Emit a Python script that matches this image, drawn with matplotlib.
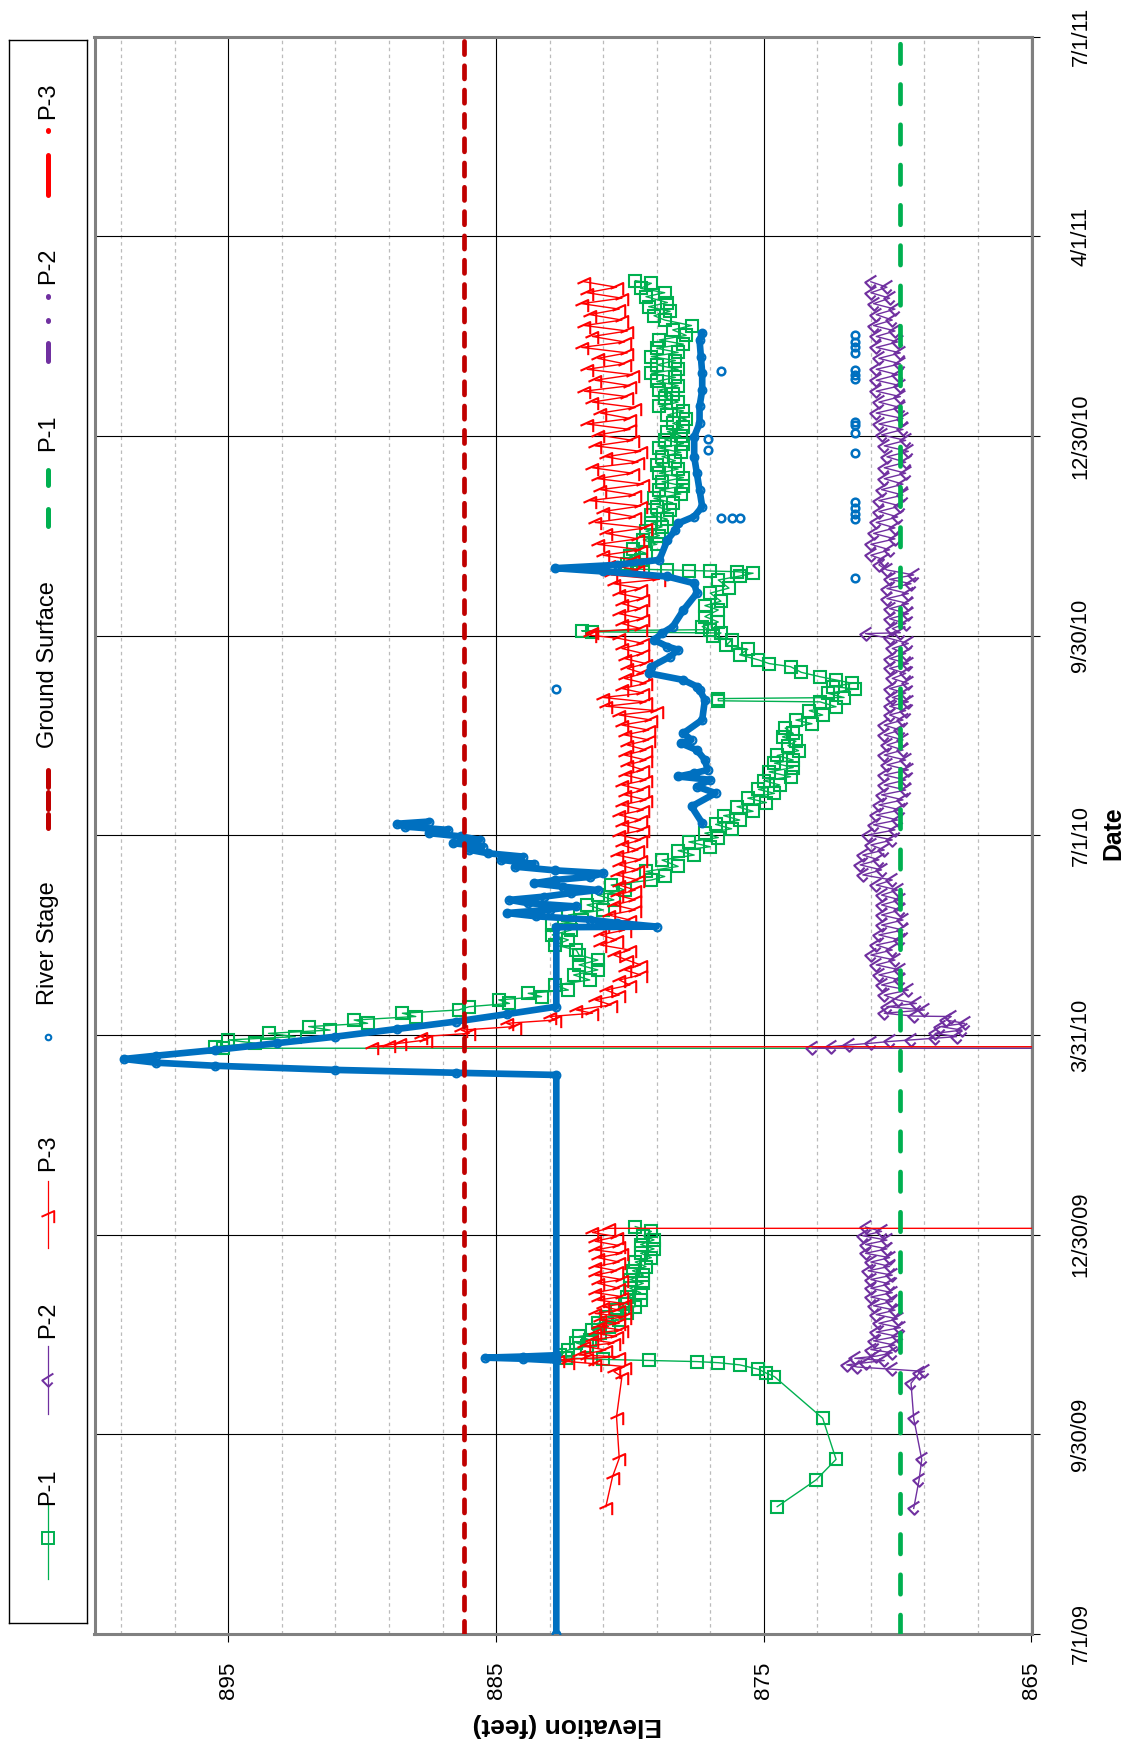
import numpy as np
import matplotlib
matplotlib.use('Agg')
import matplotlib.pyplot as plt
from matplotlib.path import Path
from matplotlib import font_manager

nan = np.nan

# ---------------- data (day = days since 7/1/09, elevation in feet) ----------------
date_ticks = [0, 91.25, 182.5, 273.75, 365, 456.25, 547.5, 638.75, 730]
date_labels = ['7/1/09', '9/30/09', '12/30/09', '3/31/10', '7/1/10',
               '9/30/10', '12/30/10', '4/1/11', '7/1/11']
elev_ticks = [865, 875, 885, 895]
elev_labels = ['865', '875', '885', '895']

ground_surface_elev = 886.2
p1_ref_elev = 869.9
ref_days = [0, 730]

p1_data = [
    (58.2, 874.5), (70.4, 873.05), (79.8, 872.3), (98.6, 872.8), (117.6, 874.6),
    (119.2, 874.9), (121.0, 875.2), (123.0, 875.9), (124.0, 876.7), (124.5, 877.5),
    (125.0, 879.3), (125.5, 881.0), (126.2, 882.4), (127.5, 882.6),
    (129.8, 882.3), (131.5, 881.6), (133, 882.0), (134.4, 881.5), (136, 881.9), (137.5, 881.1),
    (138.9, 881.4), (140.5, 880.8), (142, 881.2), (143.5, 880.4), (145, 880.9), (146.5, 880.1),
    (148, 880.5), (149.6, 879.8), (151, 880.2), (152.6, 879.6), (154.2, 880.1), (156, 879.6),
    (158, 880.0), (160.3, 879.5), (162, 880.0), (164, 879.5), (166, 879.9), (167.9, 879.4),
    (170, 879.8), (172, 879.2), (174, 879.6), (176, 879.1), (178, 879.6), (180.1, 879.1),
    (182, 879.5), (184, 879.2), (186.2, 879.8),
    (nan, nan),
    (267.6, 0.0), (267.7, 895.2),
    (268.4, 895.5), (270.0, 894.0), (271.5, 895.0), (273.0, 892.5), (274.5, 893.5),
    (276.0, 891.2), (277.6, 892.0), (279.1, 889.8), (280.6, 890.3), (282.2, 888.0),
    (283.7, 888.5), (285.2, 886.4), (286.7, 886.0), (288.2, 884.5), (289.8, 884.9),
    (291.3, 883.3), (292.8, 883.8), (294.3, 882.3), (296.6, 882.8), (298.9, 881.5),
    (301.2, 882.1), (303.5, 881.2), (305.8, 881.9), (308.0, 881.2), (310.3, 881.9),
    (312.6, 882.0), (314.9, 882.8), (317.2, 882.3), (319.5, 882.9), (321.7, 882.2),
    (324.0, 882.9), (326.3, 881.8), (328.6, 882.3), (330.9, 881.0), (333.2, 881.6),
    (335.5, 880.6), (337.7, 881.2), (340.0, 880.2), (342.3, 880.7), (344.6, 879.2),
    (346.2, 878.7), (348.5, 879.4), (350.8, 878.2), (353.7, 878.8), (356, 877.6),
    (358, 878.2), (359.8, 877.0), (362, 877.8), (364, 876.7), (366, 877.2), (368, 876.2),
    (370, 876.8), (372, 875.9), (374, 876.5), (376, 875.4), (378.1, 876.0), (380, 874.9),
    (382, 875.6), (384.2, 874.6), (386, 875.2), (388, 874.4), (390, 875.0), (391.8, 874.0),
    (394, 874.8), (396, 873.9), (398, 874.6), (399.4, 873.9), (401.5, 874.5), (403.7, 873.7),
    (406, 874.1), (408, 873.8), (410, 874.3), (411.6, 873.9), (414, 874.2), (416, 873.2),
    (417.7, 873.8), (420, 872.8), (422, 873.3), (423.8, 872.3), (426, 872.9), (426.5, 876.7),
    (427.5, 876.7), (428, 872.0), (429.9, 872.6), (431.9, 871.6), (433, 872.4), (434.5, 871.7),
    (436, 872.3), (437.5, 872.9), (439.5, 873.6), (442.1, 874.0), (443.5, 874.8), (445.2, 875.2),
    (447.5, 875.9), (450, 875.6), (452, 876.4), (454.3, 876.2), (456, 876.9), (457.5, 876.6),
    (458.0, 881.4), (458.5, 881.8), (459, 877.0), (460.4, 877.3), (462.5, 876.7), (465, 877.2),
    (468, 876.7), (470, 877.2), (472, 876.6), (475.7, 877.0), (478, 876.3), (481.7, 876.7),
    (483.5, 875.9), (484.8, 875.4), (485.5, 876.0), (485.8, 877.0), (486.0, 877.8),
    (486.3, 878.6), (486.6, 879.5), (487, 880.2), (489, 880.1), (490.8, 879.6), (492.5, 880.0),
    (493.9, 879.4), (496, 879.9), (498, 879.0), (500, 879.5), (502, 878.9), (504, 879.4),
    (506, 878.8), (507.6, 879.2), (509.5, 878.6), (511.5, 879.2), (513.5, 878.5), (515.2, 879.0),
    (517, 878.4), (519, 879.1), (521, 878.1), (522.8, 878.9), (524.7, 878.0), (526.6, 878.8),
    (528.5, 878.0), (530.5, 878.9), (532.4, 878.2), (534.3, 879.0), (536.2, 878.3),
    (538.1, 878.8), (540, 878.1), (542, 878.9), (544, 878.0), (545.7, 878.7), (547.6, 878.1),
    (549.5, 878.6), (551.4, 878.0), (553.3, 878.4), (555.2, 877.9), (557.1, 878.6), (559, 878.0),
    (561, 878.9), (563, 878.2), (565, 878.7), (566.5, 878.4), (568.5, 878.9), (570.5, 878.2),
    (572.5, 879.0), (574.3, 878.3), (576.2, 879.2), (578, 878.2), (580, 879.0), (582, 878.3),
    (583.8, 879.2), (585.7, 878.2), (587.6, 879.0), (589.5, 878.0), (591.4, 878.9),
    (593.5, 877.9), (596, 878.4), (598, 877.7), (600.5, 878.7), (602.5, 879.1), (604.5, 878.5),
    (606.6, 879.3), (608.5, 878.6), (611.2, 879.4), (613, 878.7), (615, 879.6), (617.3, 879.2),
    (618.5, 879.8),
]

p2_data = [
    (57.4, 869.4), (70.4, 869.2), (79.8, 869.1), (98.6, 869.4), (114.6, 869.5), (119.2, 869.2),
    (120, 869.0), (121, 870.2), (122, 871.5), (123, 871.9), (124, 871.2), (125, 870.5),
    (126, 871.6), (127, 870.8), (128.5, 870.2), (130, 871.0), (132, 870.1), (134, 870.9),
    (136, 870.0), (138, 870.8), (140, 869.9), (142, 870.7), (144, 870.0), (146, 870.8),
    (148, 870.1), (150, 870.9), (152, 870.2), (154, 871.0), (156, 870.2), (158, 871.0),
    (160, 870.3), (162, 871.0), (164, 870.2), (166, 871.1), (168, 870.3), (170, 871.0),
    (172, 870.3), (174, 871.2), (176, 870.4), (178, 871.2), (180, 870.4), (182, 871.3),
    (184, 870.6), (186, 871.2),
    (nan, nan),
    (267.6, 0.0), (267.7, 873.2), (268.4, 872.5), (269.2, 871.8), (270, 871.0), (270.8, 870.3),
    (271.5, 869.5), (272.3, 868.6), (273, 867.8), (274.5, 868.6), (276, 867.6), (277.6, 868.4),
    (279.1, 867.5), (280.6, 868.2), (282.2, 868.0), (282.4, 869.4), (283.7, 870.5),
    (285.2, 869.0), (286.7, 870.4), (288.2, 869.3), (289.8, 870.0), (292, 870.5), (294.3, 869.6),
    (296.6, 870.6), (298.9, 869.9), (301.2, 870.7), (303.5, 869.9), (305.8, 870.8), (308, 870.1),
    (310.3, 871.0), (312.6, 870.2), (314.9, 870.8), (317.2, 869.9), (319.5, 870.7),
    (321.7, 869.8), (324, 870.6), (326.3, 869.8), (328.6, 870.6), (330.9, 869.9), (333.2, 870.6),
    (335.5, 869.9), (337.7, 870.6), (340, 870.0), (342.3, 870.8), (344.6, 870.2),
    (346.9, 871.3), (349.2, 870.6), (351.5, 871.4), (353.8, 870.7), (356, 871.3), (358.3, 870.5),
    (360.6, 871.0), (362.9, 870.2), (365.2, 871.1), (367.5, 870.1), (369.8, 870.9), (372, 870.0),
    (374.3, 870.8), (376.6, 869.9), (378.9, 870.7), (381.2, 869.8), (383.5, 870.6),
    (385.7, 869.7), (388, 870.5), (390.3, 869.7), (392.6, 870.5), (394.9, 869.6), (397.2, 870.4),
    (399.4, 869.7), (401.7, 870.5), (404, 869.8), (406.3, 870.4), (408.6, 869.8), (410.9, 870.5),
    (413.1, 869.9), (415.4, 870.5), (417.7, 869.8), (420, 870.3), (422, 869.7), (424, 870.3),
    (426, 869.6), (428, 870.2), (430, 869.7), (432.1, 870.3), (434.4, 869.6), (436.7, 870.2),
    (439, 869.7), (441.3, 870.3), (443.5, 869.6), (445.8, 870.3), (448.1, 869.7), (450.4, 870.2),
    (452.7, 869.6), (455, 870.3), (457.2, 871.2), (457.6, 869.9), (459.5, 870.2), (461.8, 869.7),
    (464, 870.3), (466.3, 869.6), (468.6, 870.3), (470.9, 869.6), (473.2, 870.4), (475.5, 869.6),
    (477.8, 870.4), (480, 869.5), (482, 870.3), (484, 869.4), (486.3, 870.4), (488.6, 870.7),
    (490.9, 870.5), (493, 871.0), (495.5, 870.3), (498, 871.0), (500.5, 870.1), (503, 870.9),
    (505.5, 870.1), (508, 870.8), (510.5, 870.0), (513, 870.7), (515.5, 869.9), (518, 870.7),
    (520.5, 869.8), (523, 870.6), (525.5, 869.8), (528, 870.5), (530.5, 869.7), (533, 870.5),
    (535.5, 869.7), (538, 870.4), (540.5, 869.6), (543, 870.5), (545.5, 869.7), (548, 870.6),
    (550.5, 869.8), (553, 870.7), (555.5, 869.8), (558, 870.8), (560.5, 869.9), (563, 870.7),
    (565.5, 869.9), (568, 870.8), (570.5, 869.9), (573, 870.8), (575.5, 870.0), (578, 870.8),
    (580.5, 869.9), (583, 870.7), (585.5, 869.9), (588, 870.8), (590.5, 870.0), (593, 870.8),
    (595.5, 870.1), (598, 870.9), (600.5, 870.2), (603, 870.8), (605.5, 870.1), (608, 870.9),
    (610.5, 870.3), (613, 871.0), (615.5, 870.4), (618, 871.0),
]

p3_data = [
    (58.2, 880.9), (71.9, 880.65), (80.3, 880.4), (99.3, 880.5), (117.6, 880.3), (120, 880.6),
    (122.2, 880.2), (123.5, 881.3), (124.5, 882.3), (125.3, 882.7), (126, 881.6), (126.7, 880.4),
    (127.5, 881.9), (129.8, 880.9), (131.5, 881.7), (133, 880.6), (134.4, 881.4), (136, 880.5),
    (137.5, 881.3), (138.9, 880.3), (140.5, 881.2), (142, 880.4), (143.5, 881.1), (145, 880.2),
    (146.5, 881.3), (148, 880.4), (149.6, 881.0), (151, 880.2), (152.6, 881.2), (154.2, 880.3),
    (156, 881.3), (158, 880.4), (160.3, 881.2), (162, 880.3), (164, 881.3), (166, 880.5),
    (167.9, 881.3), (170, 880.4), (172, 881.2), (174, 880.3), (175.5, 881.3), (177.5, 880.4),
    (179.5, 881.3), (181.6, 880.5), (183.5, 881.4), (185.4, 880.8), (185.5, 0.0),
    (268.3, 0.0), (268.4, 889.65),
    (269.2, 889.0), (270.0, 888.6), (271.5, 887.6), (273.0, 887.8), (274.5, 886.0),
    (276.0, 886.3), (277.6, 884.3), (279.1, 884.6), (280.6, 882.8), (282.2, 883.0),
    (283.7, 881.4), (285.2, 882.0), (287.5, 880.7), (289.8, 881.3), (292.0, 880.4),
    (294.3, 880.9), (296.6, 880.0), (298.9, 880.4), (301.2, 879.6), (303.5, 880.2),
    (305.8, 879.6), (308.0, 880.1), (310.3, 880.6), (312.6, 880.0), (314.9, 881.1),
    (317.2, 880.5), (319.5, 881.1), (321.7, 880.2), (324.0, 881.0), (326.3, 880.0),
    (328.6, 880.8), (330.9, 879.8), (333.2, 880.6), (335.5, 879.8), (337.7, 880.5),
    (340.0, 879.8), (342.3, 880.4), (344.6, 879.7),
    (346.9, 880.5), (349.2, 879.7), (351.5, 880.4), (353.8, 879.6), (356, 880.5), (358.3, 879.7),
    (360.6, 880.3), (362.9, 879.6), (365.2, 880.4), (367.5, 879.5), (369.8, 880.3), (372, 879.6),
    (374.3, 880.4), (376.6, 879.5), (378.9, 880.3), (381.2, 879.4), (383.5, 880.2),
    (385.7, 879.5), (388, 880.3), (390.3, 879.4), (392.6, 880.2), (394.9, 879.5), (397.2, 880.1),
    (399.4, 879.4), (401.7, 880.2), (404, 879.4), (406.3, 880.1), (408.6, 879.3), (410.9, 880.2),
    (413.1, 879.3), (415.4, 880.3), (417.7, 879.2), (420, 880.4), (422, 879.0), (424, 880.9),
    (426, 879.4), (428, 881.0), (430, 879.5), (432.1, 880.3), (434.4, 879.4), (436.7, 880.2),
    (439, 879.5), (441.3, 880.1), (443.5, 879.4), (445.8, 880.2), (448.1, 879.5), (450.4, 880.3),
    (452.7, 879.5), (455, 880.4), (456.5, 881.5), (458, 881.4), (459.5, 879.6), (461.8, 880.3),
    (464, 879.5), (466.3, 880.4), (468.6, 879.6), (470.9, 880.3), (473.2, 879.5), (475.5, 880.4),
    (477.8, 879.6), (480, 880.6), (482, 878.9), (484, 880.7), (486.3, 879.7), (488.6, 880.8),
    (490.9, 879.9), (493, 881.0), (495.5, 879.6), (498, 881.2), (500.5, 879.7), (503, 880.9),
    (505.5, 879.4), (508, 881.3), (510.5, 879.8), (513, 881.0), (515.5, 879.6), (518, 881.5),
    (520.5, 879.8), (523, 881.1), (525.5, 879.5), (528, 881.2), (530.5, 879.9), (533, 881.4),
    (535.5, 879.7), (538, 880.9), (540.5, 879.6), (543, 881.3), (545.5, 879.9), (548, 881.2),
    (550.5, 880.0), (553, 881.6), (555.5, 880.0), (558, 881.1), (560.5, 879.8), (563, 881.4),
    (565.5, 880.1), (568, 881.7), (570.5, 880.0), (573, 881.3), (575.5, 879.9), (578, 881.6),
    (580.5, 880.2), (583, 881.2), (585.5, 880.1), (588, 881.8), (590.5, 880.2), (593, 881.4),
    (595.5, 880.1), (598, 881.7), (600.5, 880.3), (603, 881.5), (605.5, 880.4), (608, 881.8),
    (610.5, 880.3), (613, 881.6), (615.5, 880.5), (618, 881.7),
]

river_data = [
    (0, 882.75), (125.0, 882.75), (125.8, 884.0), (126.3, 885.4), (126.8, 884.0),
    (127.4, 882.75), (255.5, 882.75),
    (256.5, 886.5), (257.8, 891.0), (259.7, 895.5), (261.1, 897.7), (262.8, 898.9),
    (264.3, 897.7), (266.9, 895.5), (270.0, 893.2), (273.0, 891.0), (276.5, 888.7),
    (279.9, 886.5), (283.3, 884.6), (286.7, 882.75), (323.0, 882.75),
    (323.3, 879.0), (325, 880.5), (326.5, 881.5), (328, 883.5), (329.5, 884.6), (331, 883.0),
    (332.5, 882.0), (334, 883.8), (335.5, 884.5), (337, 883.2), (338.6, 882.2), (340, 881.2),
    (341.5, 882.5), (343.1, 883.6), (344.6, 882.8), (346, 881.5), (347.7, 881.0), (349, 882.8),
    (350.7, 884.3), (352, 883.6), (353.8, 884.8), (355.3, 884.0), (356.8, 885.3), (358.4, 886.0),
    (359.9, 885.5), (361.4, 886.6), (362.9, 885.6), (364.5, 886.3), (366, 887.5), (367.5, 886.8),
    (369, 888.4), (370.3, 888.7), (371.3, 887.5),
    (nan, nan),
    (370.6, 877.3), (378.2, 877.7), (384.3, 876.8), (387.3, 877.5), (390.4, 877.0),
    (391.9, 878.2), (393.4, 877.6), (394.9, 877.1), (399.5, 877.2), (404, 877.5), (407.1, 878.1),
    (408.6, 877.7), (411.7, 878.0), (417.8, 877.3), (426.9, 877.2), (431.5, 877.4), (433, 877.5),
    (436, 878.0), (439.1, 879.3), (442.1, 879.2), (446.7, 878.5), (449.8, 878.2), (451.3, 878.6),
    (454.3, 879.1), (457.4, 878.8), (460.4, 878.4), (468, 878.0), (475.7, 877.5), (480.2, 877.6),
    (483.3, 878.6), (485.6, 881.0), (487.1, 882.8), (488.6, 880.5), (490.9, 878.9), (500, 878.6),
    (504.6, 878.3), (507.6, 878.2), (510.7, 877.6), (515.2, 877.3), (522.8, 877.4), (530.5, 877.5),
    (538.1, 877.6), (547.2, 877.6), (553.3, 877.4), (561, 877.4), (568.5, 877.3), (576.2, 877.3),
    (583.8, 877.35), (591.4, 877.4), (594.5, 877.3),
]

river_points = [
    (432, 882.75), (482.5, 871.6), (509.5, 871.6), (512, 871.6), (514.5, 871.6), (517.5, 871.6),
    (510, 876.6), (510, 876.2), (510, 875.9), (539.6, 871.6), (548.7, 871.6), (552.5, 871.6),
    (554, 871.6), (573.5, 871.6), (575.5, 871.6), (577.5, 871.6), (577, 876.6), (585.5, 871.6),
    (588, 871.6), (590.5, 871.6), (593.5, 871.6), (541, 877.1), (546, 877.1),
]

legend_labels = ['P-1', 'P-2', 'P-3', 'River Stage', 'Ground Surface', 'P-1', 'P-2', 'P-3']

# ---------------- styling ----------------
GREEN = '#00B050'
PURPLE = '#7030A0'
RED = '#FF0000'
BLUE = '#0070C0'
DARKRED = '#C00000'

avail = {f.name for f in font_manager.fontManager.ttflist}
NARROW = 'Liberation Sans Narrow' if 'Liberation Sans Narrow' in avail else 'Liberation Sans'
narrow_scale = 1.0 if NARROW == 'Liberation Sans Narrow' else 0.85

plt.rcParams['font.family'] = ['Liberation Sans', 'DejaVu Sans']
plt.rcParams['lines.scale_dashes'] = False

W, H = 1136, 1743
fig = plt.figure(figsize=(W / 100, H / 100), dpi=100)
fig.patch.set_facecolor('white')

# plot area in pixel coords
L, R, T, B = 94.5, 1031.5, 36.7, 1634.0
ax = fig.add_axes([L / W, 1 - B / H, (R - L) / W, (B - T) / H])

# custom markers (drawn in rotated orientation)
chevron = Path([(0.35, 0.5), (-0.45, 0.0), (0.0, -0.45), (0.3, -0.15)],
               [Path.MOVETO, Path.LINETO, Path.LINETO, Path.LINETO])
hook = Path([(-0.55, -0.1), (0.45, 0.35), (0.45, -0.6)],
            [Path.MOVETO, Path.LINETO, Path.LINETO])


def split(data):
    d = np.array([p[0] for p in data], dtype=float)
    e = np.array([p[1] for p in data], dtype=float)
    return d, e


p1_d, p1_e = split(p1_data)
p2_d, p2_e = split(p2_data)
p3_d, p3_e = split(p3_data)
rv_d, rv_e = split(river_data)
rp_d, rp_e = split(river_points)

ax.plot(p1_e, p1_d, color=GREEN, lw=1.0, marker='s', ms=8, mfc='none', mec=GREEN,
        mew=1.5, zorder=3)
ax.plot(p2_e, p2_d, color=PURPLE, lw=1.0, marker=chevron, ms=10, mfc='none', mec=PURPLE,
        mew=1.5, zorder=4)
ax.plot(p3_e, p3_d, color=RED, lw=1.0, marker=hook, ms=11, mfc='none', mec=RED,
        mew=1.5, zorder=5)
ax.plot(rv_e, rv_d, color=BLUE, lw=4.8, solid_capstyle='round', solid_joinstyle='round',
        zorder=6)
ax.plot(rv_e, rv_d, ls='none', marker='o', ms=5.5, mfc='none', mec=BLUE, mew=1.6, zorder=6)
ax.plot(rp_e, rp_d, ls='none', marker='o', ms=5.5, mfc='none', mec=BLUE, mew=1.8, zorder=6)

gs_line, = ax.plot([ground_surface_elev] * 2, ref_days, color=DARKRED, lw=3.4,
                   dash_capstyle='round', zorder=7)
gs_line.set_dashes([9.5, 8.0])
p1r_line, = ax.plot([p1_ref_elev] * 2, ref_days, color=GREEN, lw=3.4,
                    dash_capstyle='round', zorder=7)
p1r_line.set_dashes([14, 15])

ax.set_xlim(900, 865)
ax.set_ylim(0, 730)

ax.set_xticks(elev_ticks)
ax.set_xticklabels(elev_labels)
ax.set_xticks(np.arange(867, 900, 2), minor=True)
ax.set_yticks(date_ticks)
ax.set_yticklabels(date_labels)
ax.yaxis.tick_right()

ax.grid(True, which='major', axis='both', color='black', lw=0.8)
ax.grid(True, which='minor', axis='x', color='#BBBBBB', lw=0.9, ls=(0, (2.5, 2.5)))
ax.set_axisbelow(True)

ax.tick_params(axis='x', which='major', direction='out', length=6, width=0.8,
               pad=14, labelsize=19 * narrow_scale, labelrotation=90, bottom=True, top=False)
ax.tick_params(axis='x', which='minor', length=0)
ax.tick_params(axis='y', which='major', direction='out', length=6, width=0.8,
               pad=22, labelsize=18.5 * narrow_scale, labelrotation=90, right=True, left=False)
for lab in ax.get_xticklabels():
    lab.set_family([NARROW, 'DejaVu Sans'])
for lab in ax.get_yticklabels():
    lab.set_family([NARROW, 'DejaVu Sans'])
    lab.set_verticalalignment('center')

for s in ax.spines.values():
    s.set_color('#808080')
    s.set_linewidth(2.2)

# axis titles
fig.text(567 / W, 1 - 1725 / H, 'Elevation (feet)', rotation=180, ha='center', va='center',
         fontsize=19, fontweight='bold', family=['Liberation Sans', 'DejaVu Sans'])
fig.text(1113 / W, 1 - 833 / H, 'Date', rotation=90, ha='center', va='center',
         fontsize=21 * narrow_scale, fontweight='bold', family=[NARROW, 'DejaVu Sans'])

# ---------------- legend (rotated) ----------------
lx0, lx1, ly0, ly1 = 8.5, 87.0, 40.0, 1623.0
lax = fig.add_axes([lx0 / W, 1 - ly1 / H, (lx1 - lx0) / W, (ly1 - ly0) / H])
lax.set_xlim(lx0, lx1)
lax.set_ylim(ly1, ly0)
lax.set_xticks([])
lax.set_yticks([])
for s in lax.spines.values():
    s.set_color('black')
    s.set_linewidth(1.0)
cx = 48.0
fs_leg = 17

def ltext(y, s):
    lax.text(cx, y, s, rotation=90, ha='center', va='center', fontsize=fs_leg)

# P-1 / P-2 / P-3 thin series
lax.plot([cx, cx], [1504, 1579], color=GREEN, lw=0.9)
lax.plot([cx], [1538], marker='s', ms=8, mfc='none', mec=GREEN, mew=1.4)
ltext(1487, legend_labels[0])
lax.plot([cx, cx], [1346, 1414], color=PURPLE, lw=0.9)
lax.plot([cx], [1380], marker=chevron, ms=10, mfc='none', mec=PURPLE, mew=1.4)
ltext(1320, legend_labels[1])
lax.plot([cx, cx], [1181, 1248], color=RED, lw=0.9)
lax.plot([cx], [1215], marker=hook, ms=11, mfc='none', mec=RED, mew=1.4)
ltext(1153, legend_labels[2])
# River stage
lax.plot([cx], [1037], marker='o', ms=4, mfc='none', mec=BLUE, mew=1.5)
ltext(943, legend_labels[3])
# Ground surface
for a, b in [(770, 787), (792, 809), (814, 828)]:
    lax.plot([cx, cx], [a, b], color=DARKRED, lw=3.6, solid_capstyle='round')
ltext(665, legend_labels[4])
# thick dashed P-1
for a, b in [(470, 485), (509, 526)]:
    lax.plot([cx, cx], [a, b], color=GREEN, lw=3.6, solid_capstyle='round')
ltext(433, legend_labels[5])
# P-2 dash-dot-dot
lax.plot([cx, cx], [343, 361], color=PURPLE, lw=3.6, solid_capstyle='round')
lax.plot([cx, cx], [319.5, 320.5], color=PURPLE, lw=3.6, solid_capstyle='round')
lax.plot([cx, cx], [295.5, 296.5], color=PURPLE, lw=3.6, solid_capstyle='round')
ltext(266, legend_labels[6])
# P-3 dash-dot
lax.plot([cx, cx], [155, 195], color=RED, lw=3.6, solid_capstyle='round')
lax.plot([cx, cx], [129.5, 130.5], color=RED, lw=3.6, solid_capstyle='round')
ltext(101, legend_labels[7])

fig.savefig('out.png', dpi=100, facecolor='white')
